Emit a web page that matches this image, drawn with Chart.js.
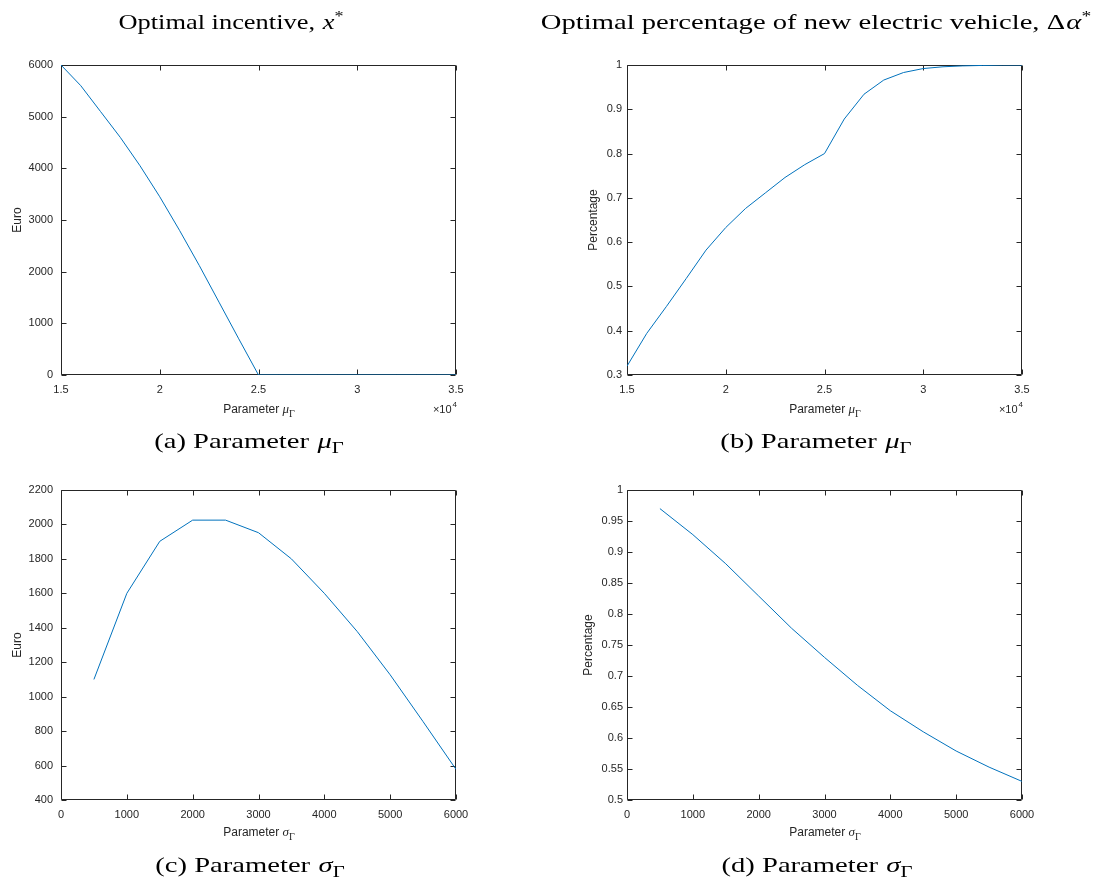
<!DOCTYPE html>
<html>
<head>
<meta charset="utf-8">
<script src="https://cdn.jsdelivr.net/npm/chart.js@4"></script>
<style>
  body { margin: 0; background: #fff; }
  #page { position: relative; width: 1104px; height: 886px; overflow: hidden; }
  canvas { position: absolute; }
  .cap {
    position: absolute; transform: translateX(-50%) scaleX(1.3); white-space: nowrap;
    font-family: "Liberation Serif", serif; font-size: 22px; line-height: 22px; color: #000;
  }
  .cap.narrow { transform: translateX(-50%) scaleX(1.2); }
  .cap .s { font-size: 16px; line-height: 0; vertical-align: -5px; }
  .cap sup { font-size: 15px; line-height: 0; vertical-align: 8px; }
  .cap i { padding-left: 1px; }
  .xt {
    position: absolute; transform: translateX(-50%); white-space: nowrap;
    font-family: "Liberation Sans", Arial, sans-serif; font-size: 12px; line-height: 12px; color: #262626;
  }
  .xt i { font-family: "Liberation Serif", serif; font-size: 13px; }
  .xt .s { font-family: "Liberation Serif", serif; font-size: 10px; line-height: 0; vertical-align: -4px; }
</style>
</head>
<body>
<div id="page">
  <canvas id="cA" width="552" height="443" style="left:0;top:0"></canvas>
  <canvas id="cB" width="552" height="443" style="left:552px;top:0"></canvas>
  <canvas id="cC" width="552" height="443" style="left:0;top:443px"></canvas>
  <canvas id="cD" width="552" height="443" style="left:552px;top:443px"></canvas>

  <div class="cap narrow" style="left:231px;top:11px">Optimal incentive, <i>x</i><sup>*</sup></div>
  <div class="cap" style="left:816px;top:11px">Optimal percentage of new electric vehicle, Δ<i>α</i><sup>*</sup></div>

  <div class="xt" style="left:259px;top:403px">Parameter <i>μ</i><span class="s">Γ</span></div>
  <div class="xt" style="left:825px;top:403px">Parameter <i>μ</i><span class="s">Γ</span></div>
  <div class="xt" style="left:259px;top:826px">Parameter <i>σ</i><span class="s">Γ</span></div>
  <div class="xt" style="left:825px;top:826px">Parameter <i>σ</i><span class="s">Γ</span></div>

  <div class="cap" style="left:249px;top:430px">(a) Parameter <i>μ</i><span class="s">Γ</span></div>
  <div class="cap" style="left:816px;top:430px">(b) Parameter <i>μ</i><span class="s">Γ</span></div>
  <div class="cap" style="left:250px;top:854px">(c) Parameter <i>σ</i><span class="s">Γ</span></div>
  <div class="cap" style="left:817px;top:854px">(d) Parameter <i>σ</i><span class="s">Γ</span></div>
</div>

<script>
// parameter mu_Gamma (euro)
const muValues = [15000, 16000, 17000, 18000, 19000, 20000, 21000, 22000, 23000, 24000, 25000,
                  26000, 27000, 28000, 29000, 30000, 31000, 32000, 33000, 34000, 35000];
const incentiveMu = [6000, 5600, 5100, 4600, 4050, 3450, 2800, 2120, 1410, 700, 0,
                     0, 0, 0, 0, 0, 0, 0, 0, 0, 0];
const percentMu = [0.32, 0.394, 0.455, 0.518, 0.582, 0.633, 0.676, 0.711, 0.746, 0.775, 0.80,
                   0.878, 0.934, 0.966, 0.983, 0.992, 0.996, 0.998, 0.999, 1, 1];

// parameter sigma_Gamma
const sigmaValues = [500, 1000, 1500, 2000, 2500, 3000, 3500, 4000, 4500, 5000, 5500, 6000];
const incentiveSigma = [1100, 1600, 1902, 2025, 2025, 1952, 1800, 1600, 1378, 1127, 855, 578];
const percentSigma = [0.97, 0.928, 0.881, 0.829, 0.777, 0.730, 0.685, 0.644, 0.610, 0.579, 0.553, 0.530];

// tick values
const muTicks = [15000, 20000, 25000, 30000, 35000];
const sigmaTicks = [0, 1000, 2000, 3000, 4000, 5000, 6000];
const euroTicksMu = [0, 1000, 2000, 3000, 4000, 5000, 6000];
const pctTicksMu = [0.3, 0.4, 0.5, 0.6, 0.7, 0.8, 0.9, 1];
const euroTicksSigma = [400, 600, 800, 1000, 1200, 1400, 1600, 1800, 2000, 2200];
const pctTicksSigma = [0.5, 0.55, 0.6, 0.65, 0.7, 0.75, 0.8, 0.85, 0.9, 0.95, 1];

const axisColor = '#262626';
const sans = '"Liberation Sans", Arial, sans-serif';

// matlab style box with ticks pointing inwards
const boxPlugin = {
  id: 'matlabBox',
  beforeDatasetsDraw(chart) {
    const { ctx, chartArea: a, scales: { x, y } } = chart;
    const L = Math.round(a.left) + 0.5, R = Math.round(a.right) - 0.5;
    const T = Math.round(a.top) + 0.5, B = Math.round(a.bottom) - 0.5;
    ctx.save();
    ctx.strokeStyle = axisColor;
    ctx.lineWidth = 1;
    ctx.beginPath();
    ctx.rect(L, T, R - L, B - T);
    x.ticks.forEach(t => {
      const px = Math.round(x.getPixelForValue(t.value)) + 0.5;
      ctx.moveTo(px, B); ctx.lineTo(px, B - 5);
      ctx.moveTo(px, T); ctx.lineTo(px, T + 5);
    });
    y.ticks.forEach(t => {
      const py = Math.round(y.getPixelForValue(t.value)) + 0.5;
      ctx.moveTo(L, py); ctx.lineTo(L + 5, py);
      ctx.moveTo(R, py); ctx.lineTo(R - 5, py);
    });
    ctx.stroke();
    ctx.restore();
  },
  afterDraw(chart, args, opts) {
    if (!opts.exp) return;
    const { ctx, chartArea: a } = chart;
    ctx.save();
    ctx.fillStyle = axisColor;
    ctx.textAlign = 'right';
    ctx.textBaseline = 'middle';
    ctx.font = '8px ' + sans;
    const w = ctx.measureText('4').width;
    ctx.fillText('4', a.right + 1, 405);
    ctx.font = '11px ' + sans;
    ctx.fillText('\u00d710', a.right - w, 410);
    ctx.restore();
  }
};

function fmt(v) { return String(Number(v.toFixed(2))); }

function makeChart(id, xs, ys, o) {
  new Chart(document.getElementById(id), {
    type: 'line',
    data: {
      datasets: [{
        data: xs.map((v, i) => ({ x: v, y: ys[i] })),
        borderColor: '#0072BD',
        borderWidth: 1,
        pointRadius: 0,
        tension: 0,
        fill: false
      }]
    },
    options: {
      responsive: false,
      animation: false,
      layout: { padding: { left: 0, top: o.top, right: o.right, bottom: o.bottom } },
      plugins: { legend: { display: false }, tooltip: { enabled: false }, matlabBox: { exp: o.exp } },
      scales: {
        x: {
          type: 'linear', min: o.xMin, max: o.xMax,
          grid: { display: false, drawTicks: false },
          border: { display: false },
          afterBuildTicks: s => { s.ticks = o.xTicks.map(v => ({ value: v })); },
          afterFit: s => { s.height = 30; },
          ticks: {
            color: axisColor, font: { family: sans, size: 11 }, padding: 8,
            maxRotation: 0, autoSkip: false, callback: o.xLabel
          }
        },
        y: {
          min: o.yMin, max: o.yMax,
          grid: { display: false, drawTicks: false },
          border: { display: false },
          afterBuildTicks: s => { s.ticks = o.yTicks.map(v => ({ value: v })); },
          afterFit: s => { s.width = o.yWidth; },
          ticks: {
            color: axisColor, font: { family: sans, size: 11 }, padding: o.yPad,
            autoSkip: false, callback: v => fmt(v)
          },
          title: {
            display: true, text: o.yTitle, color: axisColor,
            font: { family: sans, size: 12 }, padding: { top: o.titlePad, bottom: 0 }
          }
        }
      }
    },
    plugins: [boxPlugin]
  });
}

makeChart('cA', muValues, incentiveMu, {
  top: 65, right: 96, bottom: 38, yWidth: 61, yPad: 8, titlePad: 10, exp: true,
  xMin: 15000, xMax: 35000, xTicks: muTicks, xLabel: v => fmt(v / 10000),
  yMin: 0, yMax: 6000, yTicks: euroTicksMu, yTitle: 'Euro'
});
makeChart('cB', muValues, percentMu, {
  top: 65, right: 82, bottom: 38, yWidth: 75, yPad: 5, titlePad: 34, exp: true,
  xMin: 15000, xMax: 35000, xTicks: muTicks, xLabel: v => fmt(v / 10000),
  yMin: 0.3, yMax: 1, yTicks: pctTicksMu, yTitle: 'Percentage'
});
makeChart('cC', sigmaValues, incentiveSigma, {
  top: 47, right: 96, bottom: 56, yWidth: 61, yPad: 8, titlePad: 10, exp: false,
  xMin: 0, xMax: 6000, xTicks: sigmaTicks, xLabel: v => fmt(v),
  yMin: 400, yMax: 2200, yTicks: euroTicksSigma, yTitle: 'Euro'
});
makeChart('cD', sigmaValues, percentSigma, {
  top: 47, right: 82, bottom: 56, yWidth: 75, yPad: 4, titlePad: 29, exp: false,
  xMin: 0, xMax: 6000, xTicks: sigmaTicks, xLabel: v => fmt(v),
  yMin: 0.5, yMax: 1, yTicks: pctTicksSigma, yTitle: 'Percentage'
});
</script>
</body>
</html>
